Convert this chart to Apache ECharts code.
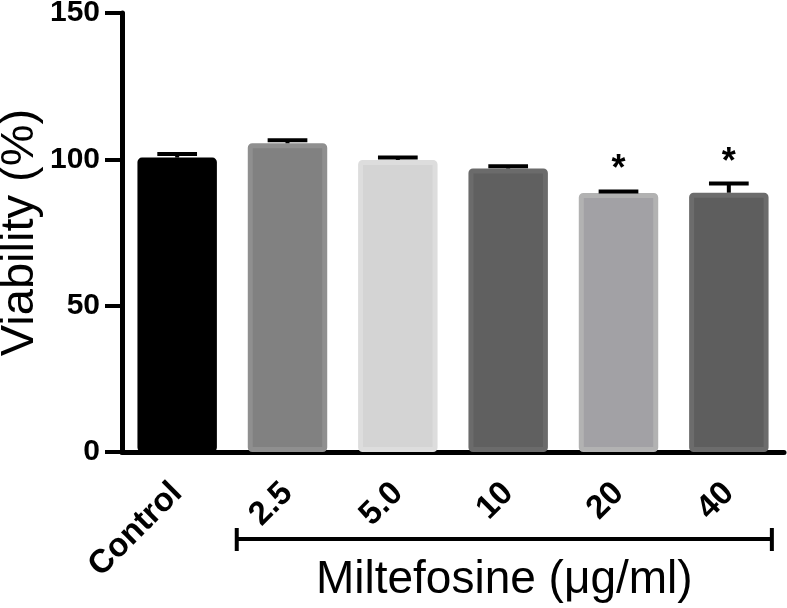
<!DOCTYPE html>
<html><head><meta charset="utf-8">
<script src="https://cdn.jsdelivr.net/npm/echarts/dist/echarts.min.js"></script>
<style>html,body{margin:0;padding:0;background:#fff}#c{width:787px;height:608px}</style>
</head><body><div id="c"></div>
<script>
const categories = ['Control', '2.5', '5.0', '10', '20', '40'];
const means = [100.6, 105.5, 99.8, 96.9, 88.5, 88.6];
const errors = [1.2, 1.0, 0.8, 0.7, 0.5, 3.1];
const significance = ['', '', '', '', '*', '*'];
const fillColors = ['#000000', '#818181', '#d4d4d4', '#606060', '#a2a1a5', '#5e5e5e'];
const edgeColors = ['#000000', '#8f8f8f', '#dddddd', '#6b6b6b', '#b2b2b2', '#6c6c6c'];
const yTicks = [0, 50, 100, 150];
const groupLabel = 'Miltefosine (μg/ml)';

const FONT = '"Liberation Sans", Arial, Helvetica, sans-serif';
const chart = echarts.init(document.getElementById('c'));

const option = {
  animation: false,
  backgroundColor: '#ffffff',
  grid: { left: 122, right: 3, top: 13, bottom: 156, containLabel: false, outerBoundsMode: 'none' },
  xAxis: {
    type: 'category',
    data: categories,
    axisLine: { lineStyle: { color: '#000', width: 5 } },
    axisTick: { alignWithLabel: true, length: 18, lineStyle: { color: '#000', width: 4 } },
    axisLabel: {
      rotate: 45, margin: 36, color: '#000', fontFamily: FONT, fontWeight: 'bold', fontSize: 33,
      interval: 0
    },
    splitLine: { show: false }
  },
  yAxis: {
    type: 'value',
    min: yTicks[0], max: yTicks[yTicks.length - 1], interval: 50,
    name: 'Viability (%)',
    nameLocation: 'middle',
    nameGap: 78,
    nameMoveOverlap: false,
    nameTextStyle: { color: '#000', fontFamily: FONT, fontSize: 47 },
    axisLine: { show: true, lineStyle: { color: '#000', width: 5 } },
    axisTick: { show: true, length: 17, lineStyle: { color: '#000', width: 4 } },
    axisLabel: { margin: 22, color: '#000', fontFamily: FONT, fontWeight: 'bold', fontSize: 30 },
    splitLine: { show: false }
  },
  series: [
    {
      type: 'bar',
      barWidth: '72%',
      data: means.map((v, i) => ({
        value: v,
        itemStyle: { color: fillColors[i], borderColor: edgeColors[i], borderWidth: 5, borderRadius: 2 }
      })),
      z: 2
    },
    {
      type: 'custom',
      z: 5,
      data: categories.map((c, i) => [i, means[i], errors[i]]),
      encode: { x: 0, y: 1 },
      renderItem: function (params, api) {
        const i = api.value(0);
        const m = api.value(1), e = api.value(2);
        const p0 = api.coord([i, m]);
        const p1 = api.coord([i, m + e]);
        const band = api.size([1, 0])[0];
        const hw = band * 0.18;
        const children = [
          { type: 'line', shape: { x1: p0[0], y1: p0[1], x2: p1[0], y2: p1[1] }, style: { stroke: '#000', lineWidth: 4 } },
          { type: 'line', shape: { x1: p1[0] - hw, y1: p1[1], x2: p1[0] + hw, y2: p1[1] }, style: { stroke: '#000', lineWidth: 4 } }
        ];
        if (significance[i]) {
          children.push({
            type: 'text', x: p1[0], y: p1[1] - 21,
            style: { text: significance[i], font: 'bold 36px ' + FONT, fill: '#000', align: 'center', verticalAlign: 'middle' }
          });
        }
        return { type: 'group', children: children };
      }
    }
  ]
};
chart.setOption(option);

// Group bracket under the treatment categories, positioned from the axis scale
const xFirst = chart.convertToPixel({ xAxisIndex: 0 }, categories[1]);
const xLast = chart.convertToPixel({ xAxisIndex: 0 }, categories[categories.length - 1]);
const bandPx = (xLast - xFirst) / (categories.length - 2);
const axisY = chart.convertToPixel({ yAxisIndex: 0 }, 0);
const bx1 = xFirst - bandPx * 0.46;
const bx2 = xLast + bandPx * 0.39;
const by = axisY + 87;
chart.setOption({
  graphic: [
    { type: 'line', shape: { x1: bx1, y1: by, x2: bx2, y2: by }, style: { stroke: '#000', lineWidth: 4 } },
    { type: 'line', shape: { x1: bx1, y1: by - 11, x2: bx1, y2: by + 12 }, style: { stroke: '#000', lineWidth: 4 } },
    { type: 'line', shape: { x1: bx2, y1: by - 11, x2: bx2, y2: by + 12 }, style: { stroke: '#000', lineWidth: 4 } },
    {
      type: 'text', x: (bx1 + bx2) / 2, y: by + 41,
      style: { text: groupLabel, font: '46px ' + FONT, fill: '#000', align: 'center', verticalAlign: 'middle' }
    }
  ]
});
</script>
</body></html>
